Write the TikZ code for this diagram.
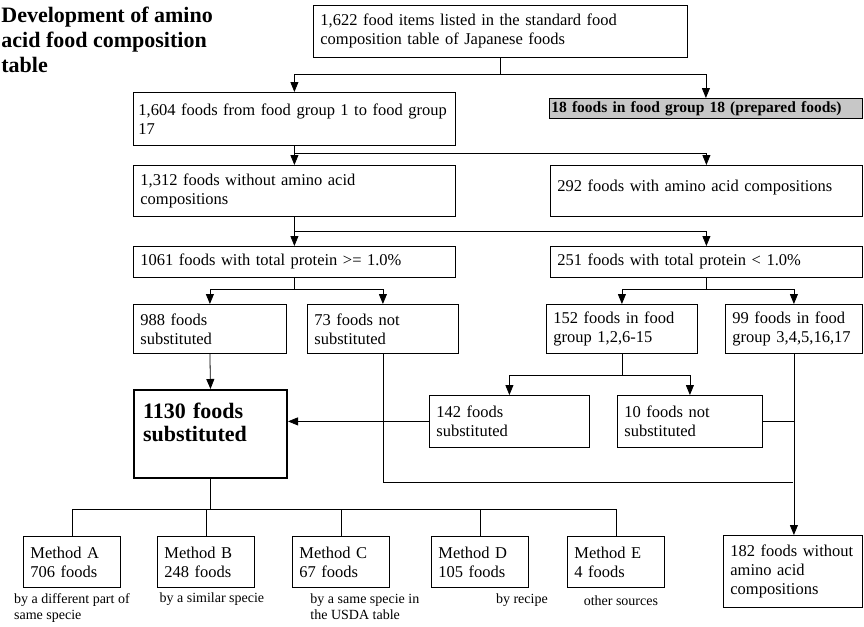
\documentclass[tikz,border=0pt]{standalone}
\usepackage{fontspec}
\setmainfont{Liberation Serif}
\usetikzlibrary{positioning,arrows.meta,calc}
\newcommand{\boxfont}{\fontsize{16.5}{19}\selectfont}
\newcommand{\capfont}{\fontsize{14}{16}\selectfont}

\begin{document}
\begin{tikzpicture}[x=1pt, y=-1pt, line width=0.8pt,
    >={Triangle[length=10pt,width=8pt]},
    cell/.style = {rectangle, draw=black, align=left, anchor=north west,
        font=\boxfont, inner xsep=7pt, inner ysep=0pt},
    shaded/.style = {cell, fill=black!22, inner xsep=2pt,
        font=\fontsize{15.5}{19}\selectfont\bfseries},
    total/.style = {cell, line width=2pt, inner xsep=9pt,
        font=\fontsize{22}{23}\selectfont\bfseries},
    note/.style = {align=left, font=\capfont, inner sep=0pt}]
  \useasboundingbox (0,0) rectangle (864,626);

  \node[align=left, anchor=north west, inner sep=0pt,
    font=\fontsize{22}{25}\selectfont\bfseries] (title) at (1,7)
    {Development of amino\\acid food composition\\table};

  % upper part of the tree
  \node[cell, text width=360pt, minimum height=52pt] (n1622) at (313,5)
    {1,622 food items listed in the standard food\\composition table of Japanese foods};
  \node[cell, inner xsep=5pt, text width=312pt, minimum height=53pt] (n1604) at (133,92)
    {1,604 foods from food group 1 to food group\\17};
  \node[shaded, text width=309pt, minimum height=20pt] (n18) at (549,98)
    {18 foods in food group 18 (prepared foods)};
  \node[cell, text width=308pt, minimum height=51pt] (n1312) at (133,165)
    {1,312 foods without amino acid\\compositions};
  \node[cell, text width=298pt, minimum height=51pt] (n292) at (550,165)
    {292 foods with amino acid compositions\rule[-11pt]{0pt}{11pt}};
  \node[cell, text width=308pt, minimum height=31pt] (n1061) at (133,246)
    {1061 foods with total protein >= 1.0\%};
  \node[cell, text width=298pt, minimum height=31pt] (n251) at (550,246)
    {251 foods with total protein < 1.0\%};

  \node[cell, text width=139pt, minimum height=49pt] (n988) at (133,304)
    {988 foods\\substituted};
  \node[cell, text width=137pt, minimum height=49pt] (n73) at (307,304)
    {73 foods not\\substituted};
  \node[cell, text width=137pt, minimum height=49pt] (n152) at (546,304)
    {152 foods in food\\group 1,2,6-15};
  \node[cell, text width=123pt, minimum height=49pt] (n99) at (725,304)
    {99 foods in food\\group 3,4,5,16,17};
  \node[cell, text width=146pt, minimum height=52pt] (n142) at (429,395)
    {142 foods\\substituted};
  \node[cell, text width=131pt, minimum height=52pt] (n10) at (617,395)
    {10 foods not\\substituted};

  \node[total, text width=135pt, minimum height=88pt] (n1130) at (133,389)
    {1130 foods\\substituted\rule[-24pt]{0pt}{24pt}};
  \node[cell, text width=125pt, minimum height=72pt] (n182) at (723,535)
    {182 foods without\\amino acid\\compositions};

  % methods of substitution
  \foreach \m/\k/\x in {A/706/23, B/248/157, C/67/292, D/105/431, E/4/567}
    \node[cell, text width=83pt, minimum height=51pt] (m\m) at (\x,536)
      {Method \m\\\k{} foods};
  \node[note, below=5pt of mA] (cA) {by a different part of\\same specie};
  \node[note, below=5pt of mB, xshift=6pt] (cB) {by a similar specie};
  \node[note, below=6pt of mC, xshift=24pt] (cC) {by a same specie in\\the USDA table};
  \node[note, below=6pt of mD, xshift=42pt] (cD) {by recipe};
  \node[note, below=8pt of mE, xshift=5pt] (cE) {other sources};

  % connectors
  \draw (n1622.south) -- ++(0,17) coordinate (j1);
  \draw[->] (j1) -| (n1604.north);
  \draw[->] (j1) -| (n18.north);
  \draw[->] (n1604.south) -- (n1312.north);
  \draw[->] ($(n1604.south)!0.4!(n1312.north)$) -| (n292.north);
  \draw[->] (n1312.south) -- (n1061.north);
  \draw[->] ($(n1312.south)!0.5!(n1061.north)$) -| (n251.north);
  \draw (n1061.south) -- ++(0,12) coordinate (j4);
  \draw[->] (j4) -| (n988.north);
  \draw[->] (j4) -| (n73.north);
  \draw (n251.south) -- ++(0,12) coordinate (j5);
  \draw[->] (j5) -| (n152.north);
  \draw[->] (j5) -| (n99.north);
  \draw (n152.south) -- ++(0,22) coordinate (j6);
  \draw[->] (j6) -| (n142.north);
  \draw[->] (j6) -| (n10.north);
  \draw[->] (n988.south) -- (n1130.north);
  \draw[->] (n142.west) -- (n142.west -| n1130.east);
  \draw[->] (n99.south) -- (n99.south |- n182.north);
  \draw (n10.east) -- (n10.east -| n99.south);
  \draw (n73.south) |- ($(n99.south)!0.71!(n182.north)$);
  \draw (n1130.south) -- ++(0,30) coordinate (j11);
  \foreach \m in {A,B,C,D,E}
    \draw (j11) -| (m\m.north);
\end{tikzpicture}
\end{document}
